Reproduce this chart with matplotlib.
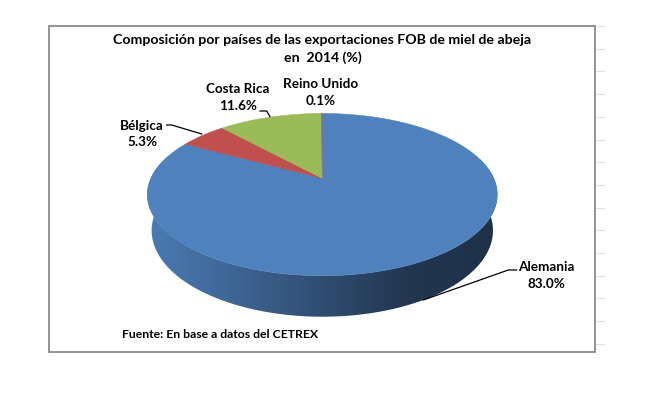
import numpy as np
import matplotlib
matplotlib.use("Agg")
import matplotlib.pyplot as plt
from matplotlib.patches import Polygon, Rectangle
from matplotlib.colors import to_rgb

# ---- data ----
countries = ["Alemania", "Bélgica", "Costa Rica", "Reino Unido"]
shares = [83.0, 5.3, 11.6, 0.1]
pct_labels = ["83.0%", "5.3%", "11.6%", "0.1%"]
colors = ["#4F81BD", "#C0504D", "#9BBB59", "#8064A2"]
title = "Composición por países de las exportaciones FOB de miel de abeja\nen  2014 (%)"
source = "Fuente: En base a datos del CETREX"

# ---- layout (pixel coordinates) ----
W, H = 667, 398
cx, cy = 322.3, 178.3           # projected pie centre
f_len, sphi, cphi, dist, thick = 760.0, 0.4541, 0.891, 4.434, 0.2365
label_pos = {"Alemania": (546, 275.2), "Bélgica": (142, 134),
             "Costa Rica": (238, 97.5), "Reino Unido": (321, 92.5)}
leaders = {"Alemania": [(516.7, 270), (508.3, 270), (423.3, 300)],
           "Bélgica": [(166.7, 125), (171.7, 125), (201.7, 134)],
           "Costa Rica": [(260, 111), (266.7, 111), (270, 116.7)]}

fig = plt.figure(figsize=(W / 100, H / 100), dpi=100)
ax = fig.add_axes([0, 0, 1, 1])
ax.set_xlim(0, W)
ax.set_ylim(H, 0)
ax.axis("off")

FONT = ["Lato", "DejaVu Sans"]


def proj(X, Y, Z):
    d = dist - (Y * cphi + Z * sphi)
    up = -Y * sphi + Z * cphi
    return cx + f_len * X / d, cy - f_len * up / d


# angles: clockwise from the back (12 o'clock), Excel style
fr = np.array(shares) / np.sum(shares)
edges = np.concatenate([[0], np.cumsum(fr)]) * 360.0

# side of the pie (front part), one gradient-filled polygon per slice
shade_u = [0.0, 0.2, 0.5, 0.75, 1.0]
shade_v = [0.95, 0.82, 0.60, 0.42, 0.38]
xs_rim = [proj(np.sin(np.radians(t)), -np.cos(np.radians(t)), 0)[0] for t in np.arange(0, 360, 0.5)]
xmin, xmax = min(xs_rim), max(xs_rim)
vis_lo, vis_hi = 75.0, 285.0     # front-facing range of the side (degrees)
for i, (a0, a1) in enumerate(zip(edges[:-1], edges[1:])):
    lo, hi = max(a0, vis_lo), min(a1, vis_hi)
    if hi <= lo:
        continue
    ts = np.radians(np.linspace(lo, hi, int((hi - lo) * 2) + 2))
    top = [proj(np.sin(t), -np.cos(t), 0) for t in ts]
    bot = [proj(np.sin(t), -np.cos(t), -thick) for t in ts[::-1]]
    poly = Polygon(top + bot, closed=True, facecolor="none", edgecolor="none")
    ax.add_patch(poly)
    gx = np.linspace(xmin, xmax, 400)
    k = np.interp((gx - xmin) / (xmax - xmin), shade_u, shade_v)
    base = np.array(to_rgb(colors[i]))
    img = np.clip(base[None, None, :] * k[None, :, None], 0, 1)
    ys = [p[1] for p in top + bot]
    im = ax.imshow(img, extent=(xmin, xmax, max(ys) + 1, min(ys) - 1),
                   aspect="auto", interpolation="bilinear", zorder=1)
    im.set_clip_path(poly)

# top faces
for i, (a0, a1) in enumerate(zip(edges[:-1], edges[1:])):
    ts = np.radians(np.linspace(a0, a1, max(3, int((a1 - a0) * 2))))
    pts = [proj(0, 0, 0)] + [proj(np.sin(t), -np.cos(t), 0) for t in ts]
    ax.add_patch(Polygon(pts, closed=True, facecolor=colors[i], edgecolor=colors[i],
                         lw=0.4, zorder=2))

# labels
for name, pct in zip(countries, pct_labels):
    x, y = label_pos[name]
    ax.text(x, y, f"{name}\n{pct}", ha="center", va="center", fontsize=9.7,
            fontweight="bold", family=FONT, color="black", linespacing=1.5, zorder=4)
    if name in leaders:
        lx, ly = zip(*leaders[name])
        ax.plot(lx, ly, color="black", lw=0.9, zorder=4)

# frame and grid stubs
ax.add_patch(Rectangle((49, 26), 546, 326, fill=False, edgecolor="#8a8a8a", lw=1.3, zorder=5))
for gy in np.arange(26, 350, 22.7):
    ax.plot([595.5, 604], [gy, gy], color="#dde2ea", lw=0.8)

ax.text(322.5, 49.2, title, ha="center", va="center", fontsize=10.2, fontweight="bold",
        family=FONT, color="black", linespacing=1.45, zorder=4)
ax.text(121.5, 335, source, ha="left", va="center", fontsize=8.8, fontweight="bold",
        family=FONT, color="black", zorder=4)

fig.savefig("out.png", dpi=100)
